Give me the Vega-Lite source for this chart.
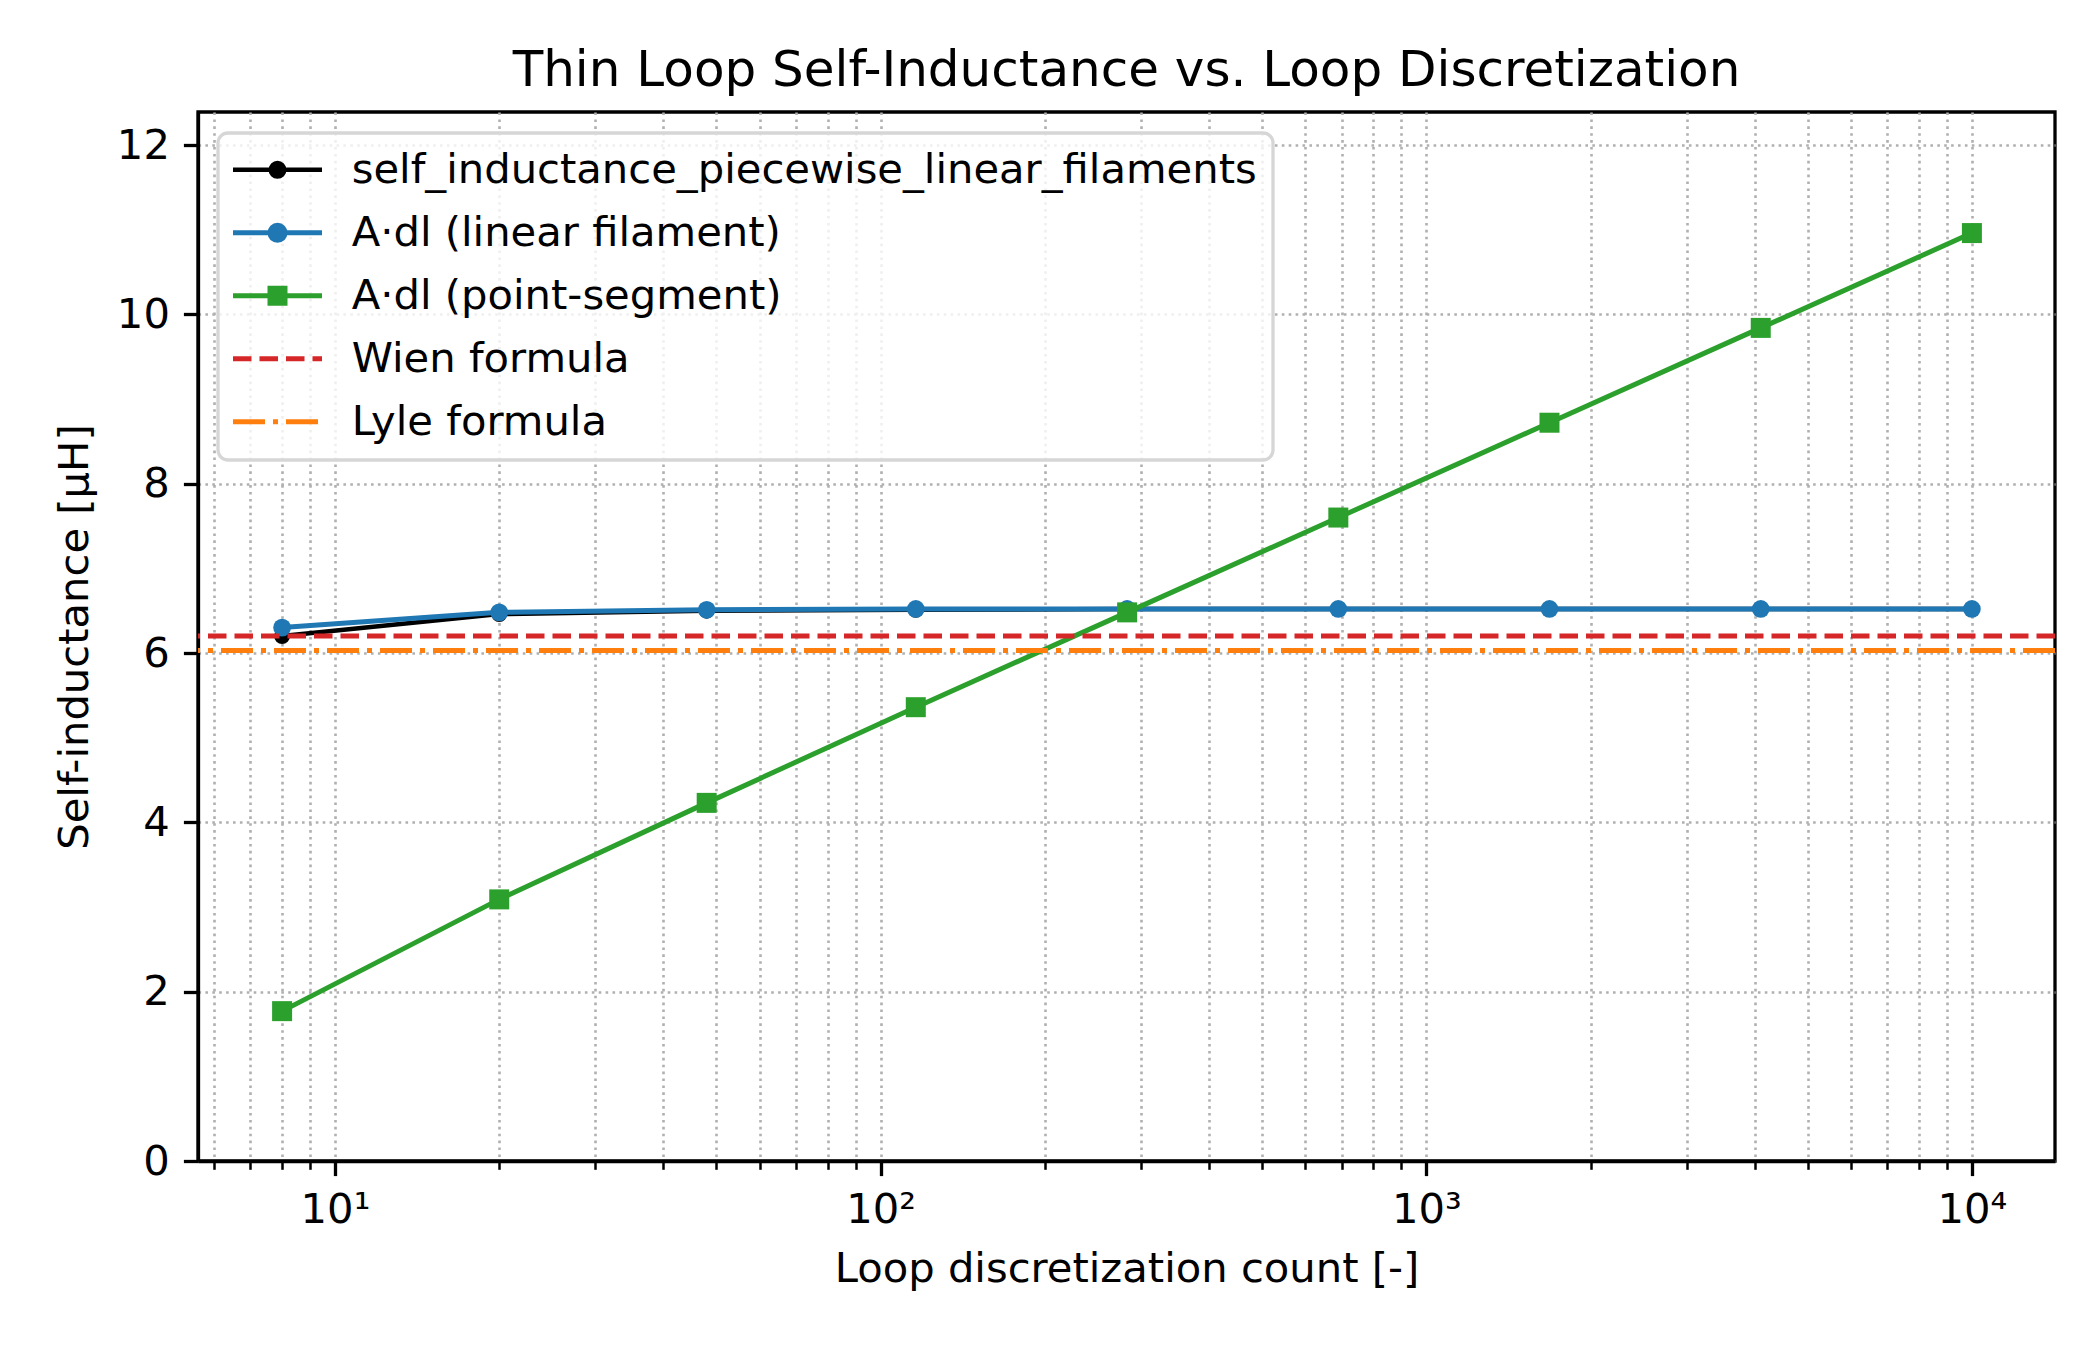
{
  "$schema": "https://vega.github.io/schema/vega-lite/v6.json",
  "width": 1857,
  "height": 1049,
  "autosize": {"type": "none"},
  "padding": {"left": 198, "top": 112, "right": 45, "bottom": 189},
  "background": "white",
  "title": {
    "text": "Thin Loop Self-Inductance vs. Loop Discretization",
    "fontSize": 50,
    "fontWeight": "normal",
    "font": "DejaVu Sans",
    "color": "black",
    "anchor": "middle",
    "frame": "group",
    "baseline": "alphabetic",
    "offset": -24
  },
  "data": {
    "values": [
      {"series": "self_inductance_piecewise_linear_filaments", "n": 8, "L": 6.20},
      {"series": "self_inductance_piecewise_linear_filaments", "n": 20, "L": 6.46},
      {"series": "self_inductance_piecewise_linear_filaments", "n": 48, "L": 6.50},
      {"series": "self_inductance_piecewise_linear_filaments", "n": 116, "L": 6.51},
      {"series": "self_inductance_piecewise_linear_filaments", "n": 283, "L": 6.52},
      {"series": "self_inductance_piecewise_linear_filaments", "n": 690, "L": 6.52},
      {"series": "self_inductance_piecewise_linear_filaments", "n": 1682, "L": 6.52},
      {"series": "self_inductance_piecewise_linear_filaments", "n": 4102, "L": 6.52},
      {"series": "self_inductance_piecewise_linear_filaments", "n": 10000, "L": 6.52},
      {"series": "A·dl (linear filament)", "n": 8, "L": 6.30},
      {"series": "A·dl (linear filament)", "n": 20, "L": 6.48},
      {"series": "A·dl (linear filament)", "n": 48, "L": 6.51},
      {"series": "A·dl (linear filament)", "n": 116, "L": 6.52},
      {"series": "A·dl (linear filament)", "n": 283, "L": 6.52},
      {"series": "A·dl (linear filament)", "n": 690, "L": 6.52},
      {"series": "A·dl (linear filament)", "n": 1682, "L": 6.52},
      {"series": "A·dl (linear filament)", "n": 4102, "L": 6.52},
      {"series": "A·dl (linear filament)", "n": 10000, "L": 6.52},
      {"series": "A·dl (point-segment)", "n": 8, "L": 1.77},
      {"series": "A·dl (point-segment)", "n": 20, "L": 3.09},
      {"series": "A·dl (point-segment)", "n": 48, "L": 4.23},
      {"series": "A·dl (point-segment)", "n": 116, "L": 5.36},
      {"series": "A·dl (point-segment)", "n": 283, "L": 6.48},
      {"series": "A·dl (point-segment)", "n": 690, "L": 7.60},
      {"series": "A·dl (point-segment)", "n": 1682, "L": 8.72},
      {"series": "A·dl (point-segment)", "n": 4102, "L": 9.84},
      {"series": "A·dl (point-segment)", "n": 10000, "L": 10.96},
      {"series": "Wien formula", "L": 6.20},
      {"series": "Lyle formula", "L": 6.03}
    ]
  },
  "layer": [
    {
      "transform": [{"filter": "datum.series == 'self_inductance_piecewise_linear_filaments'"}],
      "mark": {"type": "line", "strokeWidth": 4.5, "color": "#000000"},
      "encoding": {
        "x": {
          "field": "n", "type": "quantitative",
          "scale": {"type": "log", "domain": [5.61, 14200], "nice": false},
          "axis": {
            "orient": "bottom",
            "values": [10, 100, 1000, 10000],
            "labelExpr": "datum.value == 10 ? '10¹' : datum.value == 100 ? '10²' : datum.value == 1000 ? '10³' : '10⁴'",
            "grid": true,
            "title": "Loop discretization count [-]",
            "titlePadding": 17,
            "labelFlush": false,
            "labelOverlap": false,
            "labelBound": false
          }
        },
        "y": {
          "field": "L", "type": "quantitative",
          "scale": {"domain": [0, 12.39], "nice": false, "zero": false},
          "axis": {"values": [0, 2, 4, 6, 8, 10, 12], "grid": true, "title": "Self-inductance [μH]", "titlePadding": 20, "labelFlush": false, "labelOverlap": false, "labelBound": false}
        }
      }
    },
    {
      "layer": [
        {
          "transform": [{"filter": "datum.series == 'self_inductance_piecewise_linear_filaments'"}],
          "mark": {"type": "point", "filled": true, "shape": "circle", "size": 254, "color": "#000000", "opacity": 1},
          "encoding": {
            "x": {"field": "n", "type": "quantitative", "axis": {"orient": "bottom", "values": [6, 7, 8, 9, 20, 30, 40, 50, 60, 70, 80, 90, 200, 300, 400, 500, 600, 700, 800, 900, 2000, 3000, 4000, 5000, 6000, 7000, 8000, 9000], "labels": false, "domain": false, "tickSize": 8.3, "tickWidth": 2.5, "grid": true, "title": null}},
            "y": {"field": "L", "type": "quantitative", "axis": {"values": [0, 2, 4, 6, 8, 10, 12], "grid": true, "title": "Self-inductance [μH]", "titlePadding": 20, "labelFlush": false, "labelOverlap": false, "labelBound": false}}
          }
        },
        {
          "transform": [{"filter": "datum.series == 'A·dl (linear filament)'"}],
          "mark": {"type": "line", "strokeWidth": 5, "color": "#1f77b4"},
          "encoding": {
            "x": {"field": "n", "type": "quantitative", "axis": {"orient": "bottom", "values": [6, 7, 8, 9, 20, 30, 40, 50, 60, 70, 80, 90, 200, 300, 400, 500, 600, 700, 800, 900, 2000, 3000, 4000, 5000, 6000, 7000, 8000, 9000], "labels": false, "domain": false, "tickSize": 8.3, "tickWidth": 2.5, "grid": true, "title": null}},
            "y": {"field": "L", "type": "quantitative", "axis": {"values": [0, 2, 4, 6, 8, 10, 12], "grid": true, "title": "Self-inductance [μH]", "titlePadding": 20, "labelFlush": false, "labelOverlap": false, "labelBound": false}}
          }
        },
        {
          "transform": [{"filter": "datum.series == 'A·dl (linear filament)'"}],
          "mark": {"type": "point", "filled": true, "shape": "circle", "size": 314, "color": "#1f77b4", "opacity": 1},
          "encoding": {
            "x": {"field": "n", "type": "quantitative", "axis": {"orient": "bottom", "values": [6, 7, 8, 9, 20, 30, 40, 50, 60, 70, 80, 90, 200, 300, 400, 500, 600, 700, 800, 900, 2000, 3000, 4000, 5000, 6000, 7000, 8000, 9000], "labels": false, "domain": false, "tickSize": 8.3, "tickWidth": 2.5, "grid": true, "title": null}},
            "y": {"field": "L", "type": "quantitative", "axis": {"values": [0, 2, 4, 6, 8, 10, 12], "grid": true, "title": "Self-inductance [μH]", "titlePadding": 20, "labelFlush": false, "labelOverlap": false, "labelBound": false}}
          }
        },
        {
          "transform": [{"filter": "datum.series == 'A·dl (point-segment)'"}],
          "mark": {"type": "line", "strokeWidth": 5, "color": "#2ca02c"},
          "encoding": {
            "x": {"field": "n", "type": "quantitative", "axis": {"orient": "bottom", "values": [6, 7, 8, 9, 20, 30, 40, 50, 60, 70, 80, 90, 200, 300, 400, 500, 600, 700, 800, 900, 2000, 3000, 4000, 5000, 6000, 7000, 8000, 9000], "labels": false, "domain": false, "tickSize": 8.3, "tickWidth": 2.5, "grid": true, "title": null}},
            "y": {"field": "L", "type": "quantitative", "axis": {"values": [0, 2, 4, 6, 8, 10, 12], "grid": true, "title": "Self-inductance [μH]", "titlePadding": 20, "labelFlush": false, "labelOverlap": false, "labelBound": false}}
          }
        },
        {
          "transform": [{"filter": "datum.series == 'A·dl (point-segment)'"}],
          "mark": {"type": "point", "filled": true, "shape": "square", "size": 400, "color": "#2ca02c", "opacity": 1},
          "encoding": {
            "x": {"field": "n", "type": "quantitative", "axis": {"orient": "bottom", "values": [6, 7, 8, 9, 20, 30, 40, 50, 60, 70, 80, 90, 200, 300, 400, 500, 600, 700, 800, 900, 2000, 3000, 4000, 5000, 6000, 7000, 8000, 9000], "labels": false, "domain": false, "tickSize": 8.3, "tickWidth": 2.5, "grid": true, "title": null}},
            "y": {"field": "L", "type": "quantitative", "axis": {"values": [0, 2, 4, 6, 8, 10, 12], "grid": true, "title": "Self-inductance [μH]", "titlePadding": 20, "labelFlush": false, "labelOverlap": false, "labelBound": false}}
          }
        },
        {
          "transform": [{"filter": "datum.series == 'Wien formula'"}],
          "mark": {"type": "rule", "color": "#d62728", "strokeWidth": 5, "strokeDash": [18.5, 8]},
          "encoding": {
            "y": {"field": "L", "type": "quantitative", "axis": {"values": [0, 2, 4, 6, 8, 10, 12], "grid": true, "title": "Self-inductance [μH]", "titlePadding": 20, "labelFlush": false, "labelOverlap": false, "labelBound": false}}
          }
        },
        {
          "transform": [{"filter": "datum.series == 'Lyle formula'"}],
          "mark": {"type": "rule", "color": "#ff7f0e", "strokeWidth": 5, "strokeDash": [32, 8, 5, 8]},
          "encoding": {
            "y": {"field": "L", "type": "quantitative", "axis": {"values": [0, 2, 4, 6, 8, 10, 12], "grid": true, "title": "Self-inductance [μH]", "titlePadding": 20, "labelFlush": false, "labelOverlap": false, "labelBound": false}}
          }
        },
        {
          "transform": [{"filter": "isValid(datum.n)"}],
          "mark": {"type": "point", "filled": true, "opacity": 0},
          "encoding": {
            "x": {"field": "n", "type": "quantitative", "axis": {"orient": "bottom", "values": [6, 7, 8, 9, 20, 30, 40, 50, 60, 70, 80, 90, 200, 300, 400, 500, 600, 700, 800, 900, 2000, 3000, 4000, 5000, 6000, 7000, 8000, 9000], "labels": false, "domain": false, "tickSize": 8.3, "tickWidth": 2.5, "grid": true, "title": null}},
            "y": {"field": "L", "type": "quantitative", "axis": {"values": [0, 2, 4, 6, 8, 10, 12], "grid": true, "title": "Self-inductance [μH]", "titlePadding": 20, "labelFlush": false, "labelOverlap": false, "labelBound": false}},
            "color": {
              "field": "series", "type": "nominal",
              "scale": {
                "domain": ["self_inductance_piecewise_linear_filaments", "A·dl (linear filament)", "A·dl (point-segment)", "Wien formula", "Lyle formula"],
                "range": ["#000000", "#1f77b4", "#2ca02c", "#d62728", "#ff7f0e"]
              },
              "legend": {
                "title": null, "orient": "none", "legendX": 20, "legendY": 21, "padding": 16, "rowPadding": 20, "labelOffset": 76, "labelLimit": 3000,
                "symbolSize": 484, "symbolStrokeWidth": 0, "symbolOpacity": 1,
                "fillColor": "rgba(255,255,255,0.8)", "strokeColor": "#d6d6d6", "cornerRadius": 10
              }
            },
            "shape": {
              "field": "series", "type": "nominal",
              "scale": {
                "domain": ["self_inductance_piecewise_linear_filaments", "A·dl (linear filament)", "A·dl (point-segment)", "Wien formula", "Lyle formula"],
                "range": [
                  "M-1.986,-0.205L6.105,-0.205L6.105,0.205L-1.986,0.205Z M2.877,0L2.815,0.313L2.637,0.578L2.372,0.756L2.059,0.818L1.746,0.756L1.481,0.578L1.303,0.313L1.241,0L1.303,-0.313L1.481,-0.578L1.746,-0.756L2.059,-0.818L2.372,-0.756L2.637,-0.578L2.815,-0.313Z",
                  "M-1.986,-0.227L6.105,-0.227L6.105,0.227L-1.986,0.227Z M2.968,0L2.899,0.348L2.702,0.643L2.407,0.840L2.059,0.909L1.711,0.840L1.416,0.643L1.219,0.348L1.150,0L1.219,-0.348L1.416,-0.643L1.711,-0.840L2.059,-0.909L2.407,-0.840L2.702,-0.643L2.899,-0.348Z",
                  "M-1.986,-0.227L6.105,-0.227L6.105,0.227L-1.986,0.227Z M1.150,-0.909L2.968,-0.909L2.968,0.909L1.150,0.909Z",
                  "M-1.986,-0.227L-0.304,-0.227L-0.304,0.227L-1.986,0.227Z M0.423,-0.227L2.105,-0.227L2.105,0.227L0.423,0.227Z M2.832,-0.227L4.514,-0.227L4.514,0.227L2.832,0.227Z M5.241,-0.227L6.105,-0.227L6.105,0.227L5.241,0.227Z",
                  "M-1.986,-0.227L0.923,-0.227L0.923,0.227L-1.986,0.227Z M1.650,-0.227L2.105,-0.227L2.105,0.227L1.650,0.227Z M2.832,-0.227L5.741,-0.227L5.741,0.227L2.832,0.227Z"
                ]
              },
              "legend": {
                "title": null, "orient": "none", "legendX": 20, "legendY": 21, "padding": 16, "rowPadding": 20, "labelOffset": 76, "labelLimit": 3000,
                "symbolSize": 484, "symbolStrokeWidth": 0, "symbolOpacity": 1,
                "fillColor": "rgba(255,255,255,0.8)", "strokeColor": "#d6d6d6", "cornerRadius": 10
              }
            }
          }
        }
      ]
    }
  ],
  "resolve": {"axis": {"x": "independent"}},
  "config": {
    "font": "DejaVu Sans",
    "view": {"stroke": "black", "strokeWidth": 3.3},
    "axis": {
      "labelFont": "DejaVu Sans",
      "labelFontSize": 41.7,
      "labelColor": "black",
      "titleFont": "DejaVu Sans",
      "titleFontSize": 41.7,
      "titleFontWeight": "normal",
      "titleColor": "black",
      "domainColor": "black",
      "domainWidth": 3.3,
      "tickColor": "black",
      "tickWidth": 3.3,
      "tickSize": 14.6,
      "labelPadding": 14,
      "gridColor": "#b0b0b0",
      "gridDash": [2.6, 4.3],
      "gridWidth": 2.6,
      "gridOpacity": 1
    },
    "legend": {
      "labelFont": "DejaVu Sans",
      "labelFontSize": 41.7,
      "labelColor": "black",
      "strokeWidth": 3.3
    }
  }
}
